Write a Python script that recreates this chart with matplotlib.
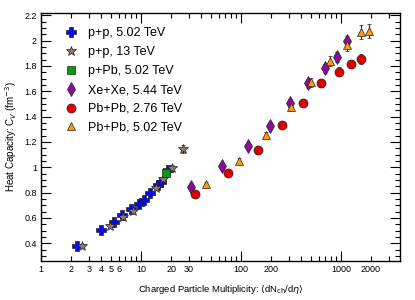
#!/usr/bin/env python3
import numpy as np
import matplotlib
matplotlib.use('Agg')
import matplotlib.pyplot as plt
from matplotlib.ticker import MultipleLocator, FixedLocator, FixedFormatter

plt.rcParams['font.family'] = ['Liberation Sans', 'DejaVu Sans']

# p+p, 5.02 TeV
pp502_x = [2.3, 4.0, 5.4, 6.4, 8.0, 9.6, 10.7, 12.4, 14.8, 15.8, 18.8]
pp502_y = [0.378, 0.505, 0.570, 0.620, 0.667, 0.712, 0.745, 0.797, 0.860, 0.886, 0.978]
pp502_e = [0.01] * len(pp502_x)

# p+p, 13 TeV
pp13_x = [2.6, 4.9, 6.6, 8.3, 14.0, 16.5, 20.4, 26.5]
pp13_y = [0.378, 0.535, 0.607, 0.657, 0.834, 0.910, 0.997, 1.144]
pp13_e = [0.01, 0.012, 0.012, 0.012, 0.015, 0.015, 0.02, 0.035]

# p+Pb, 5.02 TeV
ppb_x = [17.7]
ppb_y = [0.955]
ppb_e = [0.015]

# Xe+Xe, 5.44 TeV
xexe_x = [31.6, 64, 117, 195, 309, 467, 697, 917, 1140]
xexe_y = [0.842, 1.008, 1.165, 1.328, 1.508, 1.663, 1.781, 1.873, 1.995]
xexe_e = [0.015, 0.02, 0.02, 0.025, 0.03, 0.035, 0.035, 0.04, 0.045]

# Pb+Pb, 2.76 TeV
pbpb276_x = [34.7, 74.8, 147, 257, 418, 638, 955, 1270, 1590]
pbpb276_y = [0.789, 0.957, 1.140, 1.334, 1.510, 1.663, 1.754, 1.815, 1.855]
pbpb276_e = [0.015, 0.015, 0.02, 0.025, 0.03, 0.03, 0.035, 0.035, 0.04]

# Pb+Pb, 5.02 TeV
pbpb502_x = [44.7, 95.5, 180, 314, 501, 776, 1160, 1585, 1905]
pbpb502_y = [0.866, 1.052, 1.255, 1.478, 1.670, 1.836, 1.965, 2.065, 2.078]
pbpb502_e = [0.015, 0.02, 0.025, 0.03, 0.035, 0.04, 0.045, 0.055, 0.055]

xlabeled_minor = [2, 3, 4, 5, 6, 20, 30, 200, 2000]

fig = plt.figure(figsize=(4.15, 3.0), dpi=100)
ax = fig.add_axes([41 / 415, 39 / 300, 359 / 415, 248.5 / 300])

series = [
    (pp502_x, pp502_y, pp502_e, 'P', '#0a0ae6', 'p+p, 5.02 TeV', 7),
    (pp13_x, pp13_y, pp13_e, '*', '#8c7b6b', 'p+p, 13 TeV', 7),
    (ppb_x, ppb_y, ppb_e, 's', '#0a9a0a', 'p+Pb, 5.02 TeV', 6),
    (xexe_x, xexe_y, xexe_e, 'd', '#8e0a9a', 'Xe+Xe, 5.44 TeV', 7),
    (pbpb276_x, pbpb276_y, pbpb276_e, 'o', '#dd0000', 'Pb+Pb, 2.76 TeV', 6.5),
    (pbpb502_x, pbpb502_y, pbpb502_e, '^', '#ff9a00', 'Pb+Pb, 5.02 TeV', 6),
]

handles, labels = [], []
for x, y, e, m, c, lab, ms in series:
    h = ax.errorbar(x, y, yerr=e, fmt=m, color=c, mfc=c, mec='#222222', mew=0.5,
                    ms=ms, ecolor='#222222', elinewidth=0.8, capsize=1.5,
                    capthick=0.8)
    handles.append(h[0])
    labels.append(lab)

ax.set_xscale('log')
ax.set_xlim(1, 3900)
ax.set_ylim(0.26, 2.222)

ax.set_xticks([1, 10, 100, 1000])
ax.set_xticklabels(['1', '10', '100', '1000'])
minor_vals = [s * 10**d for d in range(4) for s in range(2, 10) if s * 10**d < 3900]
ax.xaxis.set_minor_locator(FixedLocator(minor_vals))
ax.xaxis.set_minor_formatter(FixedFormatter([str(v) if v in xlabeled_minor else '' for v in minor_vals]))

ax.yaxis.set_minor_locator(MultipleLocator(0.05))
ax.set_yticks(np.arange(0.4, 2.21, 0.2))
ax.set_yticklabels(['0.4', '0.6', '0.8', '1', '1.2', '1.4', '1.6', '1.8', '2', '2.2'])

ax.tick_params(which='both', direction='in', top=True, right=True, labelsize=6.5, pad=3)
ax.tick_params(which='major', length=7, width=0.8)
ax.tick_params(which='minor', length=3.5, width=0.8)
for s in ax.spines.values():
    s.set_linewidth(1.0)

ax.set_xlabel(r'Charged Particle Multiplicity: $\langle$dN$_{\rm ch}$/d$\eta\rangle$', fontsize=6.8, labelpad=6)
ax.set_ylabel(r'Heat Capacity: C$_V$ (fm$^{-3}$)', fontsize=7, labelpad=4)

ax.legend(handles, labels, loc='upper left', bbox_to_anchor=(0.03, 0.985), frameon=False,
          fontsize=9, labelspacing=0.55, handlelength=1.2, handletextpad=0.8)

fig.savefig('out.png', dpi=100)
